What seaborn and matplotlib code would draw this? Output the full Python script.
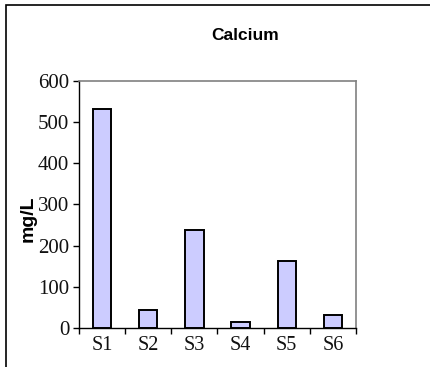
import matplotlib
matplotlib.use("Agg")
import matplotlib.pyplot as plt
import seaborn as sns
import pandas as pd
from matplotlib.patches import Rectangle
from matplotlib.ticker import FixedLocator

sites = ["S1", "S2", "S3", "S4", "S5", "S6"]
calcium = [531, 44, 239, 15, 163, 32]
y_ticks = [0, 100, 200, 300, 400, 500, 600]

df = pd.DataFrame({"site": sites, "calcium": calcium})

sns.set_style("white")

fig = plt.figure(figsize=(4.30, 3.67), dpi=100)
ax = fig.add_axes([0.1837, 0.1063, 0.6442, 0.673])

sns.barplot(data=df, x="site", y="calcium", color="#ccccff", saturation=1,
            edgecolor="black", linewidth=1.4, width=0.4, ax=ax)

ax.set_xlim(-0.5, 5.5)
ax.set_ylim(0, 600)
ax.set_yticks(y_ticks)
ax.set_xlabel("")
ax.set_ylabel("")

fig.text(28 / 430, 1 - 219 / 367, "mg/L", ha="center", va="center",
         rotation=90, fontfamily="Liberation Sans", fontweight="bold",
         fontsize=14, color="black")
fig.text(245 / 430, 1 - 35 / 367, "Calcium", ha="center", va="center",
         fontfamily="Liberation Sans", fontweight="bold", fontsize=12.5,
         color="black")

for lab in ax.get_xticklabels():
    lab.set_fontfamily("Liberation Serif")
    lab.set_fontsize(14.5)
    lab.set_color("#111111")
for lab in ax.get_yticklabels():
    lab.set_fontfamily("Liberation Serif")
    lab.set_fontsize(15)
    lab.set_color("#111111")

ax.tick_params(axis="x", which="major", length=0, pad=6)
ax.xaxis.set_minor_locator(FixedLocator([i - 0.5 for i in range(len(sites) + 1)]))
ax.tick_params(axis="x", which="minor", length=4, width=1, color="black",
               direction="out", bottom=True)
ax.tick_params(axis="y", which="major", length=4, width=1, color="black",
               direction="out", left=True, pad=3)

for side in ["top", "right"]:
    ax.spines[side].set_visible(True)
    ax.spines[side].set_color("#808080")
    ax.spines[side].set_linewidth(1.2)
for side in ["left", "bottom"]:
    ax.spines[side].set_color("black")
    ax.spines[side].set_linewidth(1)

# outer chart border
fig.patches.append(Rectangle((6 / 430, -0.05), 1.2, (367 - 5) / 367 + 0.05,
                             transform=fig.transFigure, fill=False,
                             edgecolor="black", linewidth=1.2))

fig.savefig("out.png", dpi=100, facecolor="white")
